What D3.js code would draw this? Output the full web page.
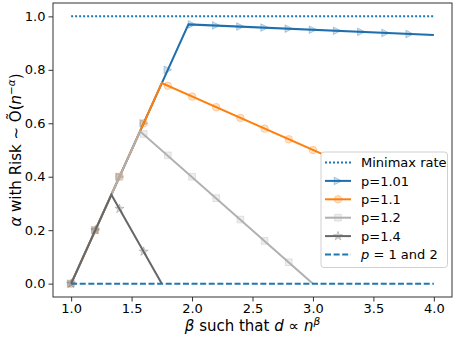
<!DOCTYPE html>
<html>
<head>
<meta charset="utf-8">
<script src="https://cdn.jsdelivr.net/npm/d3@7"></script>
<style>
  body { margin: 0; background: #fff; }
  svg { display: block; font-family: "DejaVu Sans", sans-serif; }
  .tick text { font-size: 13px; fill: #000; }
</style>
</head>
<body>
<div id="chart"></div>
<script>
// tick values
var betaTicks = [1.0, 1.5, 2.0, 2.5, 3.0, 3.5, 4.0];
var alphaTicks = [0.0, 0.2, 0.4, 0.6, 0.8, 1.0];

// reference lines
var minimaxBeta = [1.0, 4.0];
var minimaxAlpha = [1.0, 1.0];
var p1and2Beta = [1.0, 4.0];
var p1and2Alpha = [0.0, 0.0];

// p = 1.01
var lineBeta101 = [1.0, 1.97, 4.0];
var lineAlpha101 = [0.0, 0.97, 0.93];
var markBeta101 = [1.0, 1.2, 1.4, 1.6, 1.8, 2.0, 2.2, 2.4, 2.6, 2.8, 3.0, 3.2, 3.4, 3.6, 3.8];
var markAlpha101 = [0.0, 0.2, 0.4, 0.6, 0.8, 0.97, 0.966, 0.962, 0.958, 0.954, 0.95, 0.946, 0.942, 0.938, 0.934];

// p = 1.1
var lineBeta11 = [1.0, 1.75, 4.0];
var lineAlpha11 = [0.0, 0.75, 0.30];
var markBeta11 = [1.0, 1.2, 1.4, 1.6, 1.8, 2.0, 2.2, 2.4, 2.6, 2.8, 3.0, 3.2, 3.4, 3.6, 3.8];
var markAlpha11 = [0.0, 0.2, 0.4, 0.6, 0.74, 0.70, 0.66, 0.62, 0.58, 0.54, 0.50, 0.46, 0.42, 0.38, 0.34];

// p = 1.2
var lineBeta12 = [1.0, 1.57, 3.0];
var lineAlpha12 = [0.0, 0.57, 0.0];
var markBeta12 = [1.0, 1.2, 1.4, 1.6, 1.8, 2.0, 2.2, 2.4, 2.6, 2.8];
var markAlpha12 = [0.0, 0.2, 0.4, 0.56, 0.48, 0.40, 0.32, 0.24, 0.16, 0.08];

// p = 1.4
var lineBeta14 = [1.0, 1.333, 1.75];
var lineAlpha14 = [0.0, 0.333, 0.0];
var markBeta14 = [1.0, 1.2, 1.4, 1.6];
var markAlpha14 = [0.0, 0.2, 0.28, 0.12];

var W = 454, H = 338;
var margin = {top: 3, right: 2, bottom: 41, left: 53};
var width = W - margin.left - margin.right,
    height = H - margin.top - margin.bottom;

var svg = d3.select("#chart").append("svg")
    .attr("width", W)
    .attr("height", H);

var g = svg.append("g")
    .attr("transform", "translate(" + margin.left + "," + margin.top + ")");

var x = d3.scaleLinear().domain([0.85, 4.15]).range([0, width]);
var y = d3.scaleLinear().domain([-0.05, 1.05]).range([height, 0]);

function zip(a, b) { return a.map(function(v, i) { return [v, b[i]]; }); }

var line = d3.line()
    .x(function(d) { return x(d[0]); })
    .y(function(d) { return y(d[1]); });

// marker shapes, ms = marker size in px
var ms = 7.5;
var markFill = 0.22, markEdge = 0.32;
function markerPath(kind) {
  var r = ms / 2, p = d3.path();
  if (kind === "tri") {
    p.moveTo(r, 0); p.lineTo(-r, -r); p.lineTo(-r, r); p.closePath();
    return p.toString();
  }
  if (kind === "circle") return d3.symbol(d3.symbolCircle, Math.PI * r * r)();
  if (kind === "square") return d3.symbol(d3.symbolSquare, ms * ms * 0.8)();
  return d3.symbol(d3.symbolStar, ms * ms * 0.45)();
}

var series = [
  {name: "p=1.01", color: "#1f6fae", marker: "tri", line: zip(lineBeta101, lineAlpha101), marks: zip(markBeta101, markAlpha101)},
  {name: "p=1.1", color: "#ff7f0e", marker: "circle", line: zip(lineBeta11, lineAlpha11), marks: zip(markBeta11, markAlpha11)},
  {name: "p=1.2", color: "#b0b0b0", marker: "square", line: zip(lineBeta12, lineAlpha12), marks: zip(markBeta12, markAlpha12)},
  {name: "p=1.4", color: "#676767", marker: "star", line: zip(lineBeta14, lineAlpha14), marks: zip(markBeta14, markAlpha14)}
];

// minimax rate (dotted)
g.append("path")
    .datum(zip(minimaxBeta, minimaxAlpha))
    .attr("d", line)
    .attr("fill", "none")
    .attr("stroke", "#1f77b4")
    .attr("stroke-width", 2)
    .attr("stroke-dasharray", "2,2");

series.forEach(function(s) {
  g.append("path")
      .datum(s.line)
      .attr("d", line)
      .attr("fill", "none")
      .attr("stroke", s.color)
      .attr("stroke-width", 2)
      .attr("stroke-linejoin", "miter");
  g.selectAll(null)
      .data(s.marks)
    .enter().append("path")
      .attr("d", markerPath(s.marker))
      .attr("transform", function(d) { return "translate(" + x(d[0]) + "," + y(d[1]) + ")"; })
      .attr("fill", s.color).attr("fill-opacity", markFill)
      .attr("stroke", s.color).attr("stroke-opacity", markEdge)
      .attr("stroke-width", 1);
});

// p = 1 and 2 (dashed)
g.append("path")
    .datum(zip(p1and2Beta, p1and2Alpha))
    .attr("d", line)
    .attr("fill", "none")
    .attr("stroke", "#1f77b4")
    .attr("stroke-width", 2)
    .attr("stroke-dasharray", "6,2.6");

// axes
var xAxis = g.append("g")
    .attr("transform", "translate(0," + height + ")")
    .call(d3.axisBottom(x).tickValues(betaTicks).tickFormat(d3.format(".1f")).tickSizeInner(4.5).tickSizeOuter(0).tickPadding(2));
var yAxis = g.append("g")
    .call(d3.axisLeft(y).tickValues(alphaTicks).tickFormat(d3.format(".1f")).tickSizeInner(4.5).tickSizeOuter(0).tickPadding(3));
[xAxis, yAxis].forEach(function(a) {
  a.select(".domain").remove();
  a.attr("font-family", null).attr("font-size", null);
  a.selectAll(".tick line").attr("stroke", "#333").attr("stroke-width", 1);
});

// frame
g.append("rect")
    .attr("x", 0).attr("y", 0)
    .attr("width", width).attr("height", height)
    .attr("fill", "none")
    .attr("stroke", "#333")
    .attr("stroke-width", 1);

// axis labels
var xl = svg.append("text")
    .attr("x", margin.left + width / 2)
    .attr("y", 331)
    .attr("text-anchor", "middle")
    .style("font-size", "15px");
xl.append("tspan").style("font-style", "italic").text("β");
xl.append("tspan").text(" such that ");
xl.append("tspan").style("font-style", "italic").text("d");
xl.append("tspan").text(" ∝ ");
xl.append("tspan").style("font-style", "italic").text("n");
xl.append("tspan").style("font-style", "italic").style("font-size", "10.5px").attr("dy", "-6").text("β");

var yl = svg.append("text")
    .attr("transform", "translate(21," + (margin.top + height / 2) + ") rotate(-90)")
    .attr("text-anchor", "middle")
    .style("font-size", "15px");
yl.append("tspan").style("font-style", "italic").text("α");
yl.append("tspan").text(" with Risk ∼ Õ(");
yl.append("tspan").style("font-style", "italic").text("n");
yl.append("tspan").style("font-size", "10.5px").attr("dy", "-6").text("−");
yl.append("tspan").style("font-size", "10.5px").style("font-style", "italic").text("α");
yl.append("tspan").attr("dy", "6").text(")");

// legend
var legendItems = [
  {label: "Minimax rate", color: "#1f77b4", dash: "2,2", marker: null},
  {label: "p=1.01", color: series[0].color, dash: null, marker: "tri"},
  {label: "p=1.1", color: series[1].color, dash: null, marker: "circle"},
  {label: "p=1.2", color: series[2].color, dash: null, marker: "square"},
  {label: "p=1.4", color: series[3].color, dash: null, marker: "star"},
  {label: "p=1 and 2", color: "#1f77b4", dash: "6,2.6", marker: null, math: true}
];

var lg = svg.append("g").attr("transform", "translate(321,152)");
lg.append("rect")
    .attr("width", 126.5).attr("height", 115.5)
    .attr("rx", 3).attr("ry", 3)
    .attr("fill", "#fff")
    .attr("stroke", "#d0d0d0")
    .attr("stroke-width", 1);

var rowY = d3.scaleLinear().domain([0, 1]).range([10.5, 28.9]);
legendItems.forEach(function(it, i) {
  var row = lg.append("g").attr("transform", "translate(0," + rowY(i) + ")");
  row.append("line")
      .attr("x1", 4).attr("x2", 30)
      .attr("stroke", it.color).attr("stroke-width", 2)
      .attr("stroke-dasharray", it.dash);
  if (it.marker) {
    row.append("path")
        .attr("d", markerPath(it.marker))
        .attr("transform", "translate(17,0)")
        .attr("fill", it.color).attr("fill-opacity", markFill)
        .attr("stroke", it.color).attr("stroke-opacity", markEdge);
  }
  var t = row.append("text")
      .attr("x", 40).attr("y", 4.7)
      .style("font-size", "13px");
  if (it.math) {
    t.append("tspan").style("font-style", "italic").text("p");
    t.append("tspan").text(" = 1 and 2");
  } else {
    t.text(it.label);
  }
});
</script>
</body>
</html>
